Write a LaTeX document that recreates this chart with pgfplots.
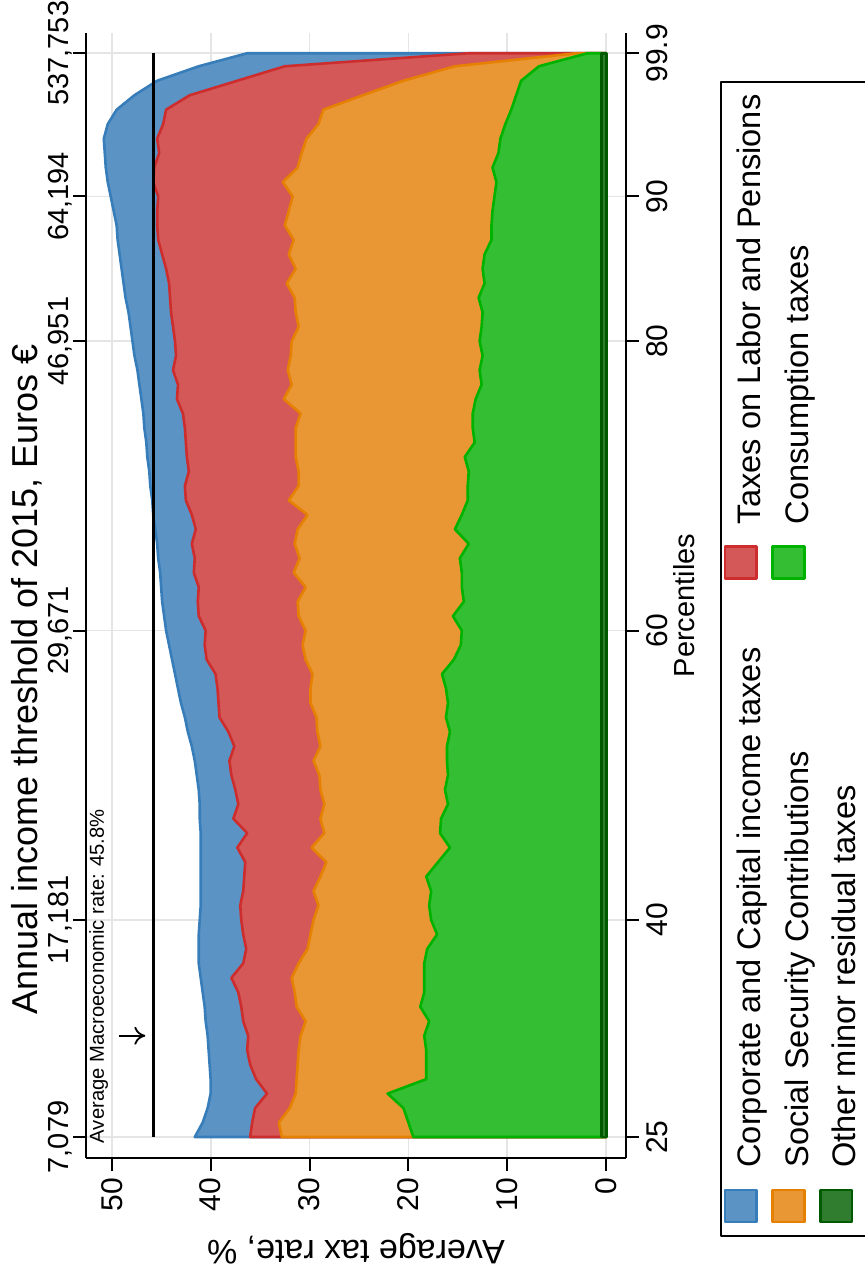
\documentclass[border=0pt]{standalone}
\usepackage{fontspec}
\setmainfont{Liberation Sans}
\usepackage{pgfplots}
\pgfplotsset{compat=1.18}
\usepackage{pgfplotstable}
\usetikzlibrary{arrows.meta}

\definecolor{cblueF}{RGB}{91,147,197}
\definecolor{cblueL}{RGB}{55,125,185}
\definecolor{credF}{RGB}{212,88,88}
\definecolor{credL}{RGB}{205,45,45}
\definecolor{corF}{RGB}{233,151,53}
\definecolor{corL}{RGB}{230,128,0}
\definecolor{cgrF}{RGB}{51,190,51}
\definecolor{cgrL}{RGB}{0,178,0}
\definecolor{cdgF}{RGB}{48,125,48}
\definecolor{cdgL}{RGB}{0,90,0}

% cumulative tops of the stacked areas (average tax rate, %)
\pgfplotstableread{
p blue red orange green other
25 41.6 36.0 32.8 19.5 0.5
26 40.8 35.8 33.1 20.0 0.5
27 40.3 35.5 32.0 20.5 0.5
28 40.0 34.3 31.4 22.1 0.5
29 40.0 35.4 31.3 18.2 0.5
30 40.1 36.0 31.2 18.2 0.5
31 40.2 36.3 31.1 18.2 0.5
32 40.3 36.2 30.9 18.4 0.5
33 40.5 36.7 30.4 17.9 0.5
34 40.6 36.9 31.3 18.8 0.5
35 40.8 37.2 31.5 18.4 0.5
36 41.0 37.9 31.8 18.4 0.5
37 41.2 36.7 31.1 18.4 0.5
38 41.2 36.4 30.2 18.1 0.5
39 41.2 36.7 29.9 17.1 0.5
40 41.1 36.9 29.6 17.7 0.5
41 41.0 37.0 29.1 17.9 0.5
42 41.0 36.7 29.6 17.7 0.5
43 41.0 36.6 28.9 18.2 0.5
44 41.0 36.5 28.3 17.0 0.5
45 41.0 37.3 29.8 15.8 0.5
46 41.0 36.3 28.5 16.8 0.5
47 41.1 37.7 28.9 16.7 0.5
48 41.1 37.2 28.5 16.0 0.5
49 41.2 37.5 28.9 16.3 0.5
50 41.4 37.9 29.0 16.0 0.5
51 41.6 38.1 29.6 16.1 0.5
52 41.9 37.6 28.9 16.1 0.5
53 42.3 38.2 29.2 15.8 0.5
54 42.6 39.1 29.3 16.2 0.5
55 43.0 39.2 29.9 16.0 0.5
56 43.3 39.3 29.9 16.2 0.5
57 43.6 39.5 29.7 16.6 0.5
58 43.9 40.4 30.4 15.4 0.5
59 44.2 40.6 30.7 14.7 0.5
60 44.5 40.5 30.4 14.6 0.5
61 44.7 41.2 31.1 15.5 0.5
62 44.9 41.3 31.2 14.4 0.5
63 45.0 41.2 30.4 14.6 0.5
64 45.1 41.7 31.6 14.6 0.5
65 45.3 41.6 31.0 14.8 0.5
66 45.4 41.9 31.5 13.9 0.5
67 45.6 41.5 31.2 15.3 0.5
68 45.8 41.9 30.2 14.6 0.5
69 45.9 42.5 32.1 14.0 0.5
70 46.1 42.6 31.1 14.0 0.5
71 46.2 42.2 31.1 13.9 0.5
72 46.4 42.4 31.4 14.3 0.5
73 46.5 42.5 31.4 13.3 0.5
74 46.7 42.6 31.4 13.5 0.5
75 46.8 42.8 30.9 13.5 0.5
76 47.0 43.4 32.6 13.2 0.5
77 47.2 43.3 31.8 12.6 0.5
78 47.4 43.8 32.2 12.8 0.5
79 47.7 43.5 31.9 12.5 0.5
80 47.9 43.6 31.8 12.8 0.5
81 48.1 43.8 31.1 12.6 0.5
82 48.3 44.0 31.4 12.5 0.5
83 48.6 44.1 31.5 12.9 0.5
84 48.8 44.2 32.3 12.3 0.5
85 49.0 44.5 31.4 12.5 0.5
86 49.2 44.9 32.1 12.3 0.5
87 49.4 45.3 31.6 11.6 0.5
88 49.5 45.4 32.5 11.6 0.5
89 49.8 45.4 32.1 11.5 0.5
90 50.1 45.3 31.7 11.3 0.5
91 50.4 45.8 32.7 11.1 0.5
92 50.6 45.7 31.2 11.5 0.5
93 50.7 45.2 30.8 10.9 0.5
94 50.8 45.4 30.3 10.7 0.5
95 50.4 44.8 29.1 10.2 0.5
96 49.5 44.5 28.6 9.6 0.5
97 47.7 42.1 24.6 9.1 0.5
98 45.4 37.3 20.5 8.6 0.5
99 41.2 32.5 15.3 6.8 0.5
99.9 36.3 13.9 3.0 1.9 0.5
}\datatable

\begin{document}
\begin{tikzpicture}[rotate=90, transform shape]
\begin{axis}[
  at={(0,0)}, anchor=south west,
  scale only axis, width=562.5pt, height=270pt,
  xmin=23.55, xmax=101.3, ymin=-2.0, ymax=52.6,
  axis x line*=bottom, axis y line*=left,
  axis line style={-, line width=1pt, black},
  xtick={25,40,60,80,90,99.9},
  xticklabels={25,40,60,80,90,99.9},
  ytick={0,10,20,30,40,50},
  yticklabels={0,10,20,30,40,50},
  tick align=outside,
  major tick length=6.5pt,
  tick style={line width=1pt, black},
  grid=major,
  grid style={line width=0.9pt, black!10},
  ticklabel style={font=\fontsize{15}{18}\selectfont},
  label style={font=\fontsize{17}{20}\selectfont},
  xlabel={Percentiles},
  xlabel style={font=\fontsize{14.5}{17}\selectfont, xshift=-5pt},
  ylabel={Average tax rate, \%},
  xlabel shift=-4pt,
  ylabel shift=4pt,
  legend columns=2,
  legend cell align=left,
  legend style={at={(-0.0702,-0.174)}, anchor=north west,
    draw=black, line width=1pt, fill=white,
    font=\fontsize{16.3}{19}\selectfont,
    inner xsep=6.5pt, inner ysep=1.3pt, row sep=1.5pt,
    nodes={inner sep=0pt, text height=12pt, text depth=4pt},
    /tikz/every odd column/.append style={column sep=10.5pt},
    /tikz/every even column/.append style={column sep=34pt}},
  legend image code/.code={\draw[#1, line width=1.2pt] (0pt,-2.1pt) rectangle (16pt,13.8pt);},
  line join=round,
]
\addplot[fill=cblueF, draw=cblueL, line width=1.3pt] table[x=p,y=blue]{\datatable} \closedcycle;
\addlegendentry{Corporate and Capital income taxes}
\addplot[fill=credF, draw=credL, line width=1.3pt] table[x=p,y=red]{\datatable} \closedcycle;
\addlegendentry{Taxes on Labor and Pensions}
\addplot[fill=corF, draw=corL, line width=1.3pt] table[x=p,y=orange]{\datatable} \closedcycle;
\addlegendentry{Social Security Contributions}
\addplot[fill=cgrF, draw=cgrL, line width=1.3pt] table[x=p,y=green]{\datatable} \closedcycle;
\addlegendentry{Consumption taxes}
\addplot[fill=cdgF, draw=cdgL, line width=1.3pt] table[x=p,y=other]{\datatable} \closedcycle;
\addlegendentry{Other minor residual taxes}
\addplot[black, line width=1.4pt, forget plot] coordinates {(25,45.8) (99.9,45.8)};
\node[anchor=north west, inner sep=0pt, font=\fontsize{10.1}{12}\selectfont]
  at (axis cs:24.55,52.3) {Average Macroeconomic rate: 45.8\%};
\draw[-{To[length=5.5pt,width=9pt]}, line width=0.9pt] (axis cs:32,49.3) -- (axis cs:32,46.6);
\end{axis}
\begin{axis}[
  at={(0,0)}, anchor=south west,
  scale only axis, width=562.5pt, height=270pt,
  xmin=23.55, xmax=101.3, ymin=-2.0, ymax=52.6,
  axis x line*=top, axis y line=none,
  axis line style={-, line width=1pt, black},
  xtick={25,40,60,80,90,99.9},
  xticklabels={{7,079},{17,181},{29,671},{46,951},{64,194},{537,753}},
  tick align=outside,
  major tick length=6.5pt,
  tick style={line width=1pt, black},
  ticklabel style={font=\fontsize{14.5}{17}\selectfont},
  xticklabel shift=-3pt,
  label style={font=\fontsize{18}{21}\selectfont},
  xlabel={Annual income threshold of 2015, Euros €},
  xlabel shift=-4pt,
  xlabel style={xshift=-42pt},
]
\addplot[draw=none, forget plot] coordinates {(25,0) (99.9,0)};
\end{axis}
\pgfresetboundingbox
\path[use as bounding box] (-56pt,-119.5pt) rectangle (579pt,313pt);
\end{tikzpicture}
\end{document}
